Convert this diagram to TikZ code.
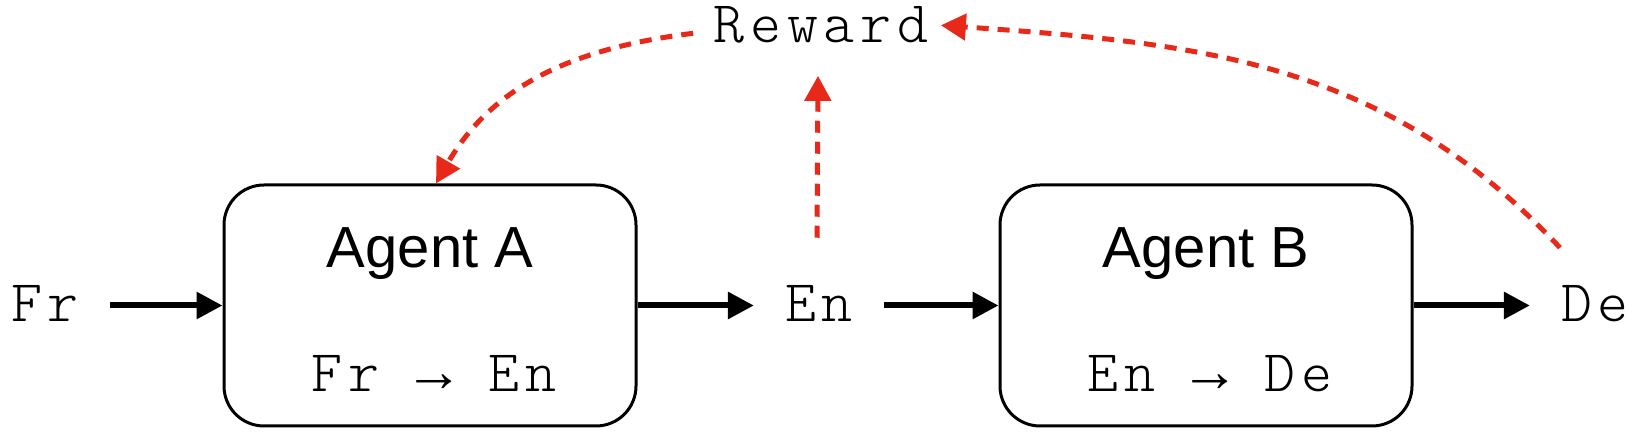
\documentclass[tikz,border=0pt]{standalone}
\usepackage{fontspec}
\setmainfont{Liberation Sans}
\newfontfamily\monof{Latin Modern Mono Light}[LetterSpace=10]
\newfontfamily\arrowf{Liberation Mono}
\usetikzlibrary{arrows.meta,calc}
\definecolor{rwred}{RGB}{232,40,24}
\begin{document}
\begin{tikzpicture}[x=1pt,y=1pt,
  agentbox/.style={draw,line width=3pt,rounded corners=40pt,minimum width=412pt,minimum height=241pt,inner sep=0pt},
  monotxt/.style={font=\monof\fontsize{59}{60}\selectfont,inner sep=0pt},
  sanstxt/.style={font=\fontsize{58}{60}\selectfont,inner sep=0pt},
  flowarrow/.style={line width=6pt,-{Triangle[length=26pt,width=26pt]}},
  rewardarrow/.style={rwred,line width=5pt,dash pattern=on 12pt off 9pt,-{Triangle[length=25pt,width=26pt]}}
]
\useasboundingbox (0,0) rectangle (1631,446);
% boxes
\node[agentbox] (A) at (430,140.5) {};
\node[agentbox] (B) at (1206,140.5) {};
\node[sanstxt,anchor=base] (An) at (430,178) {Agent A};
\node[sanstxt,anchor=base] (Bn) at (1206,178) {Agent B};
\node[monotxt,anchor=base] (At) at (434,54) {Fr {\arrowf →} En};
\node[monotxt,anchor=base] (Bt) at (1210,54) {En {\arrowf →} De};
% words
\node[monotxt,anchor=base,inner xsep=31pt] (Fr) at (45,124) {Fr};
\node[monotxt,anchor=base,inner xsep=31pt] (En) at (819,124) {En};
\node[monotxt,anchor=base,inner xsep=31pt] (De) at (1595,124) {De};
\node[monotxt,anchor=base] (Rw) at (821,403) {Reward};
% flow arrows
\draw[flowarrow] (A.west -| Fr.east) -- (A.west);
\draw[flowarrow] (A.east) -- (A.east -| En.west);
\draw[flowarrow] (B.west -| En.east) -- (B.west);
\draw[flowarrow] (B.east) -- (B.east -| De.west);
% reward arrows
\draw[rewardarrow] ([xshift=-2pt,yshift=48pt]En.north) -- ([xshift=-3pt,yshift=-32pt]Rw.south);
\draw[rewardarrow] ([xshift=-20pt,yshift=-8pt]Rw.west) .. controls +(187:116pt) and ($([xshift=6pt]A.north)+(60:116pt)$) .. ([xshift=6pt]A.north);
\draw[rewardarrow] ($(De.north)+(-35pt,38pt)$) .. controls +(133:257pt) and ($([xshift=12pt]Rw.east)+(-4:257pt)$) .. ([xshift=12pt]Rw.east);
\end{tikzpicture}
\end{document}
